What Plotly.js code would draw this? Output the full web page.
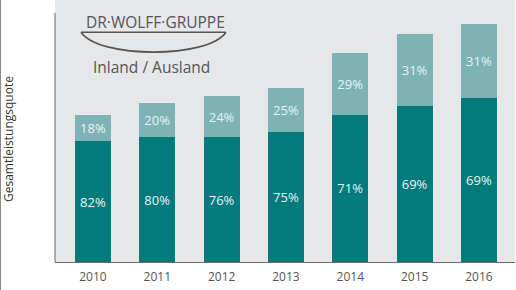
<!DOCTYPE html>
<html>
<head>
<meta charset="utf-8">
<script src="https://cdn.plot.ly/plotly-3.0.1.min.js"></script>
<style>html,body{margin:0;padding:0;background:#fff;}#chart{width:516px;height:290px;}</style>
</head>
<body>
<div id="chart"></div>
<script>
// Data (bar heights in relative units, labels as printed)
const years = ['2010', '2011', '2012', '2013', '2014', '2015', '2016'];
const inlandValues = [121, 125, 125, 130.5, 147.5, 156, 164];
const auslandValues = [26, 34, 41.5, 44, 62, 72, 74];
const inlandLabels = ['82%', '80%', '76%', '75%', '71%', '69%', '69%'];
const auslandLabels = ['18%', '20%', '24%', '25%', '29%', '31%', '31%'];

const W = 516, H = 290, L = 55, R = 1, T = 0, B = 28;
const pw = W - L - R, ph = H - T - B;
const px = x => (x - L) / pw;
const py = y => (H - B - y) / ph;

const barFont = {family: 'Open Sans, sans-serif', size: 13, color: '#eaf3f3'};

const traces = [
  {type: 'bar', x: years, y: inlandValues, text: inlandLabels, name: 'Inland',
   marker: {color: '#037a7b'}, width: 0.56,
   textposition: 'inside', insidetextanchor: 'middle', textfont: barFont,
   constraintext: 'none', hoverinfo: 'skip'},
  {type: 'bar', x: years, y: auslandValues, text: auslandLabels, name: 'Ausland',
   marker: {color: '#7db3b5'}, width: 0.56,
   textposition: 'inside', insidetextanchor: 'middle', textfont: barFont,
   constraintext: 'none', hoverinfo: 'skip'}
];

// logo arc
const ax1 = 81, ax2 = 226, ay = 32.3, abot = 51.7;
const arcPath = 'M ' + px(ax1) + ' ' + py(ay) + ' L ' + px(ax2) + ' ' + py(ay) +
  ' M ' + px(ax1) + ' ' + py(ay) + ' C ' + px(ax1 + 18) + ' ' + py(abot + 7) + ' ' +
  px(ax2 - 18) + ' ' + py(abot + 7) + ' ' + px(ax2) + ' ' + py(ay);

const layout = {
  width: W, height: H,
  margin: {l: L, r: R, t: T, b: B, pad: 0},
  paper_bgcolor: '#ffffff',
  plot_bgcolor: '#e6e7e9',
  barmode: 'stack',
  showlegend: false,
  font: {family: 'Open Sans, sans-serif', color: '#555'},
  xaxis: {
    type: 'category', range: [-0.59, 6.56],
    showline: true, linecolor: '#6e6e6e', linewidth: 1,
    ticks: '', showgrid: false, zeroline: false, ticklabelstandoff: 4,
    tickfont: {family: 'Open Sans, sans-serif', size: 12, color: '#555'},
    fixedrange: true
  },
  yaxis: {
    range: [0, 262.5], showticklabels: false, showgrid: false,
    zeroline: false, showline: false, ticks: '', fixedrange: true
  },
  shapes: [
    {type: 'line', xref: 'paper', yref: 'paper', x0: 0, x1: 0, y0: 0, y1: py(13),
     line: {color: '#6e6e6e', width: 1}},
    {type: 'line', xref: 'paper', yref: 'paper', x0: px(0.5), x1: px(0.5), y0: py(0), y1: py(290),
     line: {color: '#8a8a8a', width: 1}},
    {type: 'path', xref: 'paper', yref: 'paper', path: arcPath,
     line: {color: '#555', width: 1.6}}
  ],
  annotations: [
    {xref: 'paper', yref: 'paper', x: px(155), y: py(21.5), text: 'DR·WOLFF·GRUPPE',
     showarrow: false, xanchor: 'center', yanchor: 'middle',
     font: {family: 'Open Sans, sans-serif', size: 15.5, color: '#555'}},
    {xref: 'paper', yref: 'paper', x: px(151), y: py(67), text: 'Inland / Ausland',
     showarrow: false, xanchor: 'center', yanchor: 'middle',
     font: {family: 'Open Sans, sans-serif', size: 15.5, color: '#555'}},
    {xref: 'paper', yref: 'paper', x: px(8), y: py(139), text: 'Gesamtleistungsquote',
     showarrow: false, textangle: -90, xanchor: 'center', yanchor: 'middle',
     font: {family: 'Open Sans, sans-serif', size: 12, color: '#333'}}
  ]
};

Plotly.newPlot('chart', traces, layout, {staticPlot: true, displayModeBar: false});
</script>
</body>
</html>
